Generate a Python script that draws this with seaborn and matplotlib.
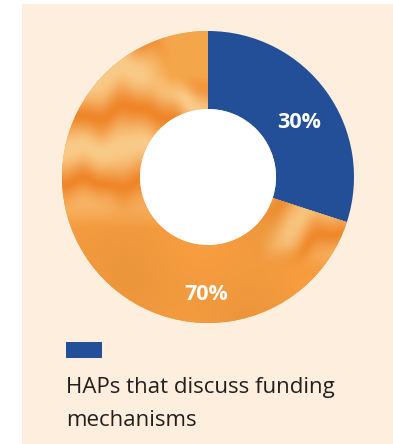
import numpy as np
import matplotlib
matplotlib.use("Agg")
import matplotlib.pyplot as plt
import matplotlib.patches as mpatches
from matplotlib.colors import to_rgb
import seaborn as sns

# Share of HAPs that discuss funding mechanisms
categories = ["HAPs that discuss funding mechanisms", "Other HAPs"]
shares = [30, 70]
labels = ["30%", "70%"]

sns.set_theme(style="white")
plt.rcParams["font.family"] = ["Open Sans", "DejaVu Sans"]

BLUE = "#224f98"
ORANGE = "#f29b40"
PEACH = "#fdeedd"
INK = "#231f20"

W, H = 393, 444
fig = plt.figure(figsize=(W / 100, H / 100), dpi=100, facecolor="white")

# peach card behind everything
fig.patches.append(mpatches.Rectangle((22 / W, -0.01), 1.0, (H - 4) / H + 0.01,
                                      transform=fig.transFigure,
                                      color=PEACH, lw=0, zorder=-5))

# donut axes: centre (208,177) px, outer radius 146 px
cx, cy, r = 208, 177, 146
ax = fig.add_axes([(cx - r) / W, (H - cy - r) / H, 2 * r / W, 2 * r / H])
ax.set_facecolor("none")
ax.axis("off")

inner = 68 / r
wedges, _ = ax.pie(shares, startangle=90, counterclock=False,
                   colors=[BLUE, ORANGE], radius=1,
                   wedgeprops=dict(width=1 - inner, linewidth=0))

# marbled fill for the larger wedge
n = 500
gx, gy = np.meshgrid(np.linspace(-1, 1, n), np.linspace(1, -1, n))
warp = (gy + 0.10 * np.sin(3.1 * gx + 1.7) + 0.05 * np.sin(7.3 * gx + 2.0 * gy)
        + 0.02 * np.sin(17 * gx + 4 * gy) + 0.01 * np.sin(31 * gx - 3 * gy))
bands = np.sin(warp * 13 + 1.4 * np.sin(4.2 * gx + 0.5))
t = np.clip((bands + 1) / 2, 0, 1) ** 0.75
light = np.array(to_rgb("#f9cb88"))
dark = np.array(to_rgb("#ef8528"))
mid = np.array(to_rgb("#f29a3e"))
upper = light * t[..., None] + dark * (1 - t[..., None])
mottle = np.sin(5 * gx + 3 * gy) * np.sin(4 * gy - 2 * gx)
lower = mid * (1 + 0.025 * mottle[..., None])
blend = np.clip((gy + 0.35) / 0.3, 0, 1)
# swirl patch beside the blue wedge
swirl = (np.clip((gx - 0.35) / 0.2, 0, 1)
         * np.clip((gy + 0.62) / 0.15, 0, 1)
         * np.clip((-0.1 - gy) / 0.1, 0, 1))
blend = np.maximum(blend, 0.85 * swirl)[..., None]
img = upper * blend + lower * (1 - blend)
# top wedge corner is a flatter amber tone
corner = np.clip((gy - 0.55) / 0.15, 0, 1) * np.clip((gx + 0.45) / 0.2, 0, 1)
img = img * (1 - corner[..., None]) + np.array(to_rgb("#f5a64b")) * corner[..., None]
im = ax.imshow(np.clip(img, 0, 1), extent=[-1, 1, -1, 1], zorder=2,
               interpolation="bilinear")
im.set_clip_path(wedges[1])

ax.add_patch(mpatches.Circle((0, 0), inner, color="white", zorder=3, lw=0))
ax.set_xlim(-1, 1); ax.set_ylim(-1, 1); ax.set_aspect("equal")

# value labels
label_pos = [((299 - cx) / r, (cy - 122.5) / r), ((206 - cx) / r, (cy - 294.5) / r)]
for lab, (lx, ly) in zip(labels, label_pos):
    ax.text(lx, ly, lab, color="white", fontsize=15.5, fontweight="bold",
            ha="center", va="center", zorder=4)

# legend swatch and text
fig.patches.append(mpatches.Rectangle((66 / W, (H - 358) / H), 36 / W, 16 / H,
                                      transform=fig.transFigure, color=BLUE, lw=0))
fig.text(66 / W, (H - 393) / H, "HAPs that discuss funding", color=INK,
         fontsize=16, ha="left", va="baseline")
fig.text(66 / W, (H - 426) / H, "mechanisms", color=INK,
         fontsize=16, ha="left", va="baseline")

fig.savefig("out.png", dpi=100, facecolor="white")
